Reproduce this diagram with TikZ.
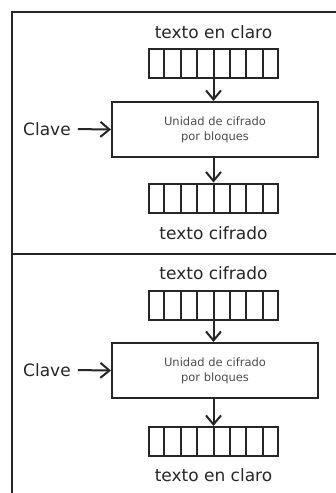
\documentclass[tikz,border=0pt]{standalone}
\usepackage{fontspec}
\setmainfont{DejaVu Sans}
\usetikzlibrary{arrows.meta,calc}
\tikzset{
  lw/.style={line width=2pt, draw=black!85},
  regbox/.style={lw, minimum width=129pt, minimum height=29pt, inner sep=0pt},
  unitbox/.style={lw, minimum width=206pt, minimum height=55pt, inner sep=0pt, align=center,
    font=\fontsize{11.5}{15}\selectfont, text=black!70},
  lbl/.style={font=\fontsize{17}{20}\selectfont, text=black!85, inner sep=2pt},
  arr/.style={lw, -{Straight Barb[length=9pt,width=15pt,line width=2pt]}},
}
\newcommand{\cells}[1]{\foreach \i in {1,...,7}{\draw[lw] ($(#1.north west)!\i/8!(#1.north east)$) -- ($(#1.south west)!\i/8!(#1.south east)$);}}
\begin{document}
\begin{tikzpicture}[x=1pt,y=-1pt]
\useasboundingbox (0,0) rectangle (336,493);
% frame
\draw[lw] (336,12) -- (12,12) -- (12,493);
\draw[lw] (12,254) -- (336,254);
% top panel
\node[lbl] (t1) at (213.5,32) {texto en claro};
\node[regbox] (r1) at (213.5,63.5) {};
\cells{r1}
\node[unitbox] (b1) at (215,129.5) {Unidad de cifrado\\por bloques};
\node[regbox] (r2) at (213.5,198) {};
\cells{r2}
\node[lbl] (t2) at (213.5,233) {texto cifrado};
\node[lbl] (k1) at (47,129) {Clave};
\draw[arr] (r1.south) -- (r1.south |- b1.north);
\draw[arr] (b1.south -| r2.north) -- (r2.north);
\draw[arr, shorten <=5pt] (k1.east) -- (b1.west);
% bottom panel
\node[lbl] (t3) at (213.5,273) {texto cifrado};
\node[regbox] (r3) at (213.5,305.5) {};
\cells{r3}
\node[unitbox] (b2) at (215,370.5) {Unidad de cifrado\\por bloques};
\node[regbox] (r4) at (213.5,441.5) {};
\cells{r4}
\node[lbl] (t4) at (213.5,475) {texto en claro};
\node[lbl] (k2) at (47,370) {Clave};
\draw[arr] (r3.south) -- (r3.south |- b2.north);
\draw[arr] (b2.south -| r4.north) -- (r4.north);
\draw[arr, shorten <=5pt] (k2.east) -- (b2.west);
\end{tikzpicture}
\end{document}
